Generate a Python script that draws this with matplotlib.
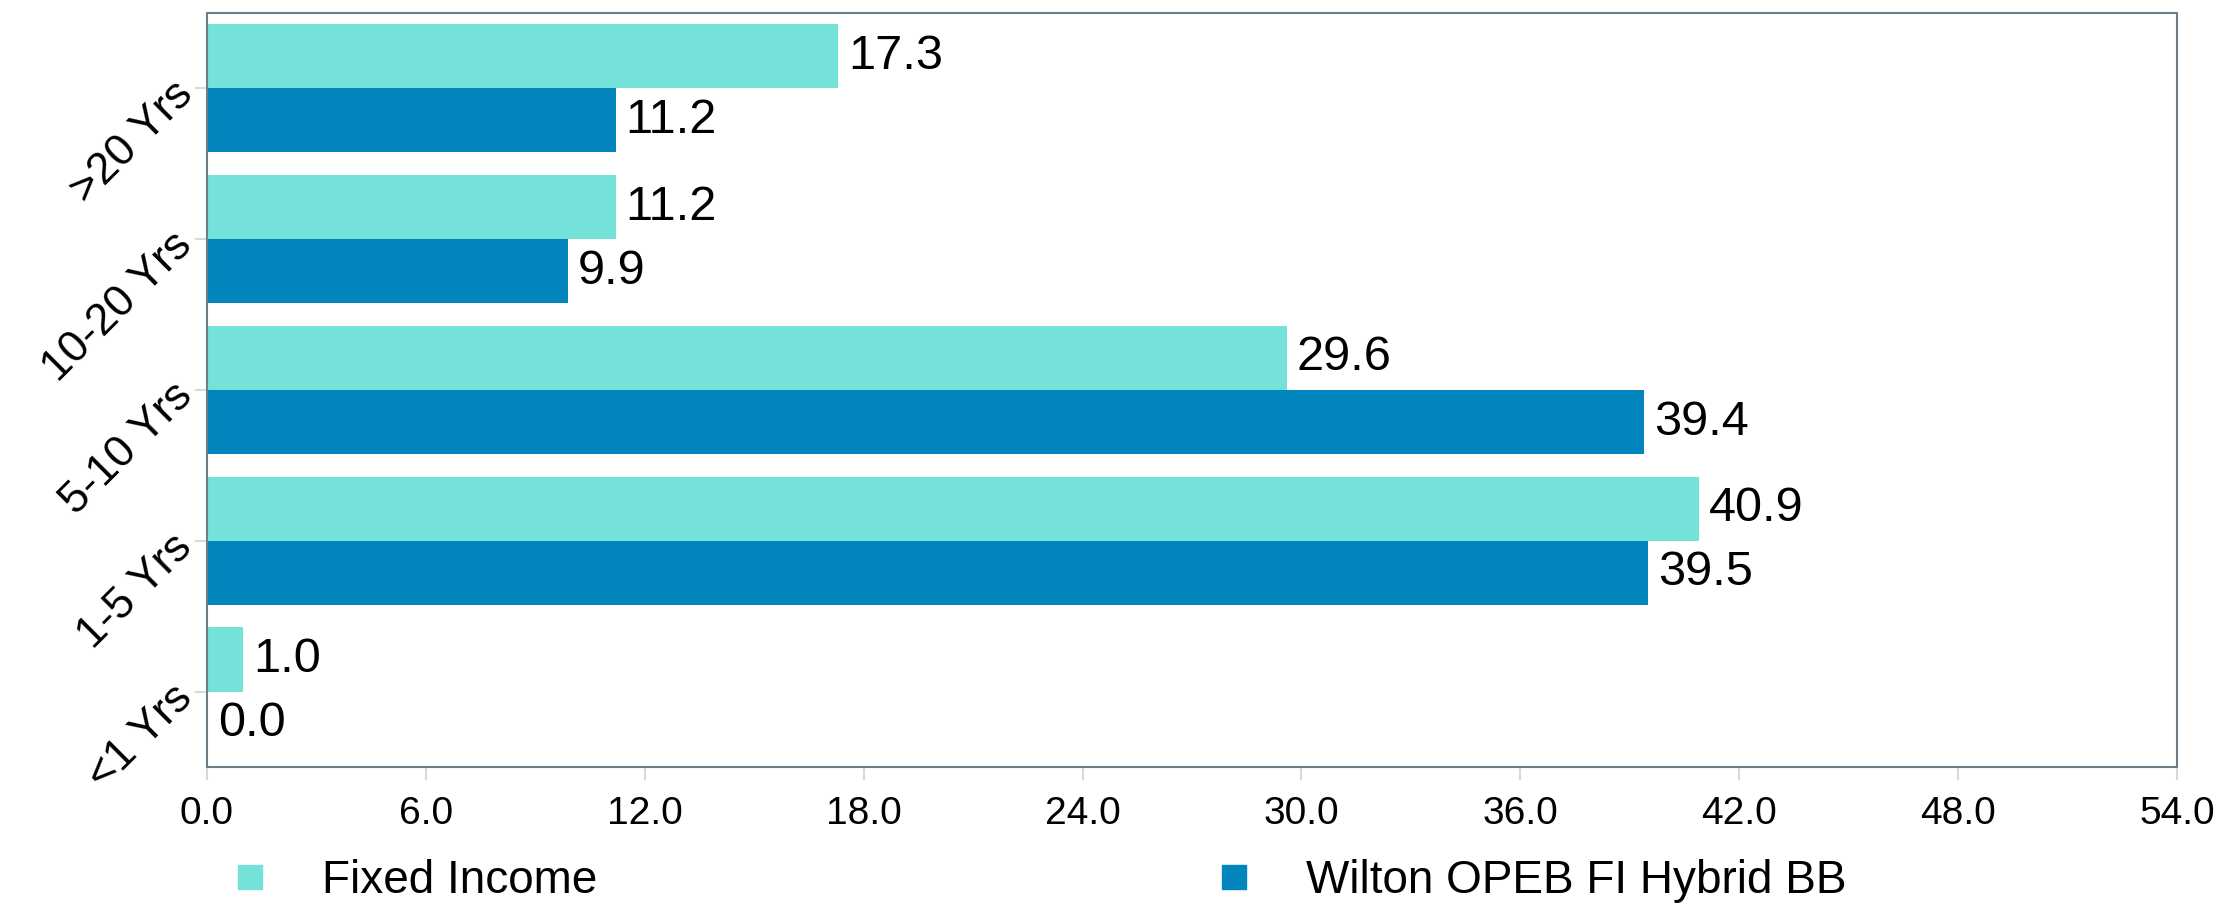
import numpy as np
import matplotlib
matplotlib.use("Agg")
import matplotlib.pyplot as plt
from matplotlib.lines import Line2D

# Data (bottom to top as drawn)
categories = ['<1 Yrs', '1-5 Yrs', '5-10 Yrs', '10-20 Yrs', '>20 Yrs']
fixed_income = [1.0, 40.9, 29.6, 11.2, 17.3]
wilton = [0.04, 39.5, 39.4, 9.9, 11.2]
series_names = ['Fixed Income', 'Wilton OPEB FI Hybrid BB']
x_ticks = [0, 6, 12, 18, 24, 30, 36, 42, 48, 54]

light = '#74E2D8'
dark = '#0284BC'
spine_col = '#6E7C88'
tick_col = '#D9D9D9'

plt.rcParams['font.family'] = ['Liberation Sans', 'DejaVu Sans']

fig = plt.figure(figsize=(22.23, 9.08), dpi=100)
ax = fig.add_axes([0.0931, 0.1553, 0.8862, 0.8304])

y = np.arange(len(categories))
h = 0.425
b1 = ax.barh(y + h / 2, fixed_income, height=h, color=light)
b2 = ax.barh(y - h / 2, wilton, height=h, color=dark)
ax.bar_label(b1, fmt='%.1f', padding=7, fontsize=35)
ax.bar_label(b2, fmt='%.1f', padding=7, fontsize=35)

ax.set_xlim(0, 54)
ax.set_ylim(-0.5, len(categories) - 0.5)
ax.set_xticks(x_ticks)
ax.set_xticklabels([f'{v:.1f}' for v in x_ticks], fontsize=28)
ax.set_yticks(y)
ax.set_yticklabels(categories, fontsize=32, rotation=45,
                   rotation_mode='anchor', ha='right', va='center')
ax.tick_params(axis='both', length=9, width=1.5, color=tick_col)
ax.tick_params(axis='x', pad=12)
ax.tick_params(axis='y', pad=6)
for s in ax.spines.values():
    s.set_color(spine_col)
    s.set_linewidth(1.5)

handles = [Line2D([], [], marker='s', linestyle='none', markersize=17,
                  color=c) for c in (light, dark)]
fig.legend(handles, series_names, loc='center left',
           bbox_to_anchor=(227 / 2223, 1 - 881 / 908), ncol=2,
           frameon=False, fontsize=33, handlelength=1.0,
           handletextpad=1.07, columnspacing=13.4, borderpad=0,
           borderaxespad=0)

fig.savefig('out.png', dpi=100)
